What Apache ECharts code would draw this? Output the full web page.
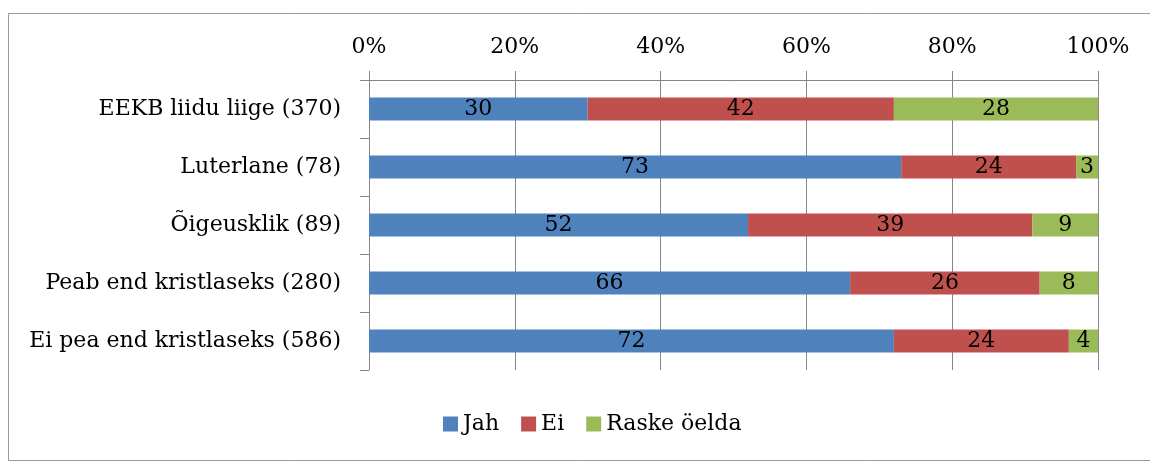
<!DOCTYPE html>
<html><head><meta charset="utf-8">
<script src="https://cdn.jsdelivr.net/npm/echarts@6/dist/echarts.min.js"></script>
<style>html,body{margin:0;padding:0;background:#fff}#c{width:1150px;height:462px}</style>
</head><body><div id="c"></div>
<script>
const categories = ["EEKB liidu liige (370)", "Luterlane (78)", "Õigeusklik (89)", "Peab end kristlaseks (280)", "Ei pea end kristlaseks (586)"];
const jah = [30, 73, 52, 66, 72];
const ei = [42, 24, 39, 26, 24];
const raske = [28, 3, 9, 8, 4];
const seriesNames = ["Jah", "Ei", "Raske öelda"];
const tickValues = [0, 20, 40, 60, 80, 100];

const FONT = "DejaVu Serif";
const FS = 22;
const chart = echarts.init(document.getElementById('c'), null, {renderer: 'canvas'});
const mk = (name, data, color) => ({
  name, type: 'bar', stack: 'total', data, barWidth: 23,
  itemStyle: {color},
  label: {show: true, position: 'inside', color: '#000', fontFamily: FONT, fontSize: FS},
  animation: false
});
chart.setOption({
  animation: false,
  textStyle: {fontFamily: FONT},
  graphic: [{type: 'rect', shape: {x: 8.5, y: 13.5, width: 1200, height: 447}, style: {fill: 'none', stroke: '#9a9a9a', lineWidth: 1}, silent: true}],
  grid: {left: 369, right: 52, top: 80, bottom: 92},
  legend: {
    bottom: 22, left: 438, itemWidth: 15, itemHeight: 15, itemGap: 22,
    icon: 'rect',
    textStyle: {fontFamily: FONT, fontSize: FS, color: '#000'},
    data: seriesNames
  },
  xAxis: {
    type: 'value', position: 'top', min: 0, max: 100, interval: 20,
    axisLine: {show: true, lineStyle: {color: '#868686', width: 1}},
    axisTick: {show: true, length: 9, lineStyle: {color: '#868686'}},
    splitLine: {show: true, lineStyle: {color: '#868686', width: 1}},
    axisLabel: {margin: 22, color: '#000', fontFamily: FONT, fontSize: FS,
      formatter: v => tickValues.includes(v) ? v + '%' : ''}
  },
  yAxis: {
    type: 'category', data: categories, inverse: true,
    axisLine: {show: true, lineStyle: {color: '#868686', width: 1}},
    axisTick: {show: true, length: 9, lineStyle: {color: '#868686'}},
    axisLabel: {margin: 28, color: '#000', fontFamily: FONT, fontSize: FS}
  },
  series: [mk(seriesNames[0], jah, '#4F81BD'), mk(seriesNames[1], ei, '#C0504D'), mk(seriesNames[2], raske, '#9BBB59')]
});
</script></body></html>
